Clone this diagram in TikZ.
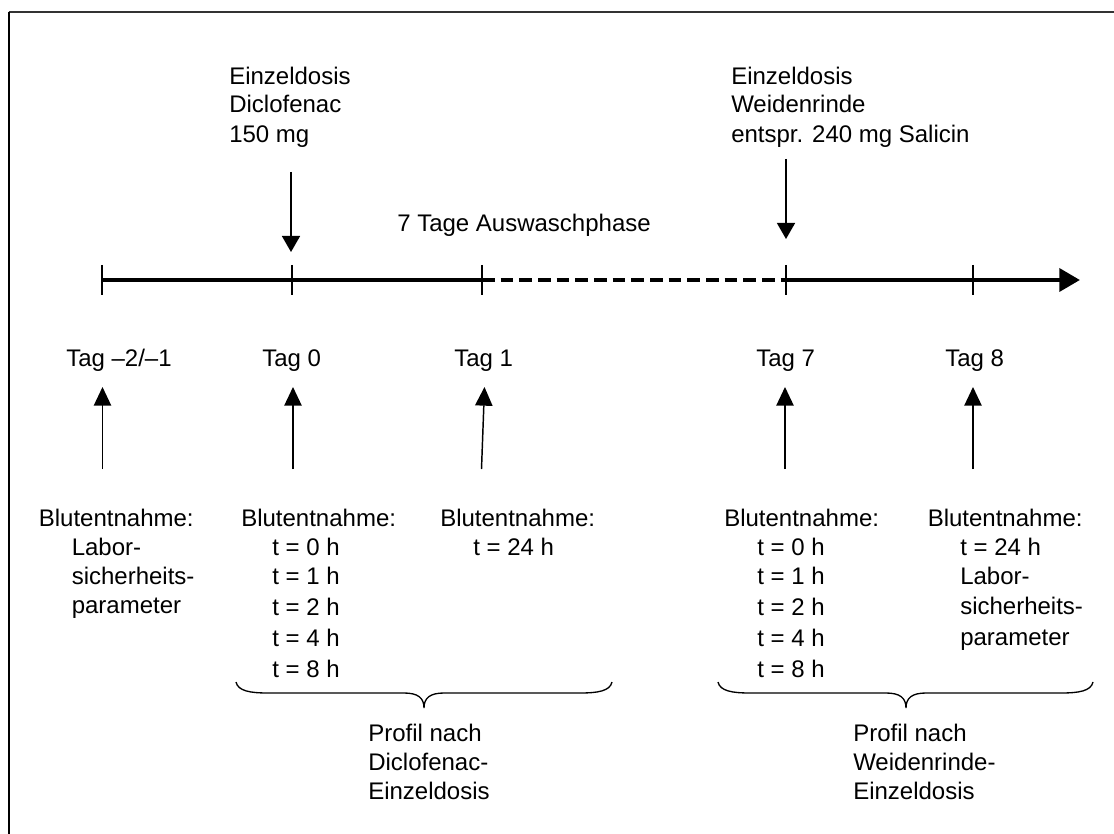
\documentclass[tikz,border=0pt]{standalone}
\usepackage{fontspec}
\setmainfont{Liberation Sans}
\usetikzlibrary{arrows.meta}
\begin{document}
\begin{tikzpicture}[x=0.75pt,y=-0.75pt,
  txt/.style={anchor=base west,inner sep=0pt,font=\fontsize{18}{22}\selectfont},
  axisline/.style={line width=3.4pt},
  tickmark/.style={line width=2.2pt},
  dashseg/.style={line width=2.4pt,dash pattern=on 9.5pt off 4.5pt},
  downarr/.style={line width=1.1pt,-{Triangle[length=12pt,width=13.5pt]}},
  uparr/.style={line width=1.1pt,-{Triangle[length=14pt,width=13pt]}},
  bracepath/.style={line width=1pt},
  frameline/.style={line width=1.5pt}]
\useasboundingbox (0,0) rectangle (1114,834);
% frame
\draw[frameline,black!80] (8.5,12) -- (1114,12);
\draw[frameline] (8.5,12) -- (8.5,834);
% timeline
\coordinate (t0) at (102,280);
\coordinate (t1) at (292,280);
\coordinate (t2) at (482,280);
\coordinate (t3) at (786,280);
\coordinate (t4) at (973,280);
\coordinate (tend) at (1080,280);
\draw[axisline] (t0) -- (t2);
\draw[dashseg] (t2) -- (t3);
\draw[axisline,-{Triangle[length=15.5pt,width=17pt]}] (t3) -- (tend);
\foreach \c in {t0,t1,t2,t3,t4}
  \draw[tickmark] ([yshift=11.25pt]\c) -- ([yshift=-11.25pt]\c);
% doses
\node[txt] (d1a) at (229,85) {Einzeldosis};
\node[txt] (d1b) at (229,113) {Diclofenac};
\node[txt] (d1c) at (229,143) {150 mg};
\coordinate (d1s) at (291,172);
\coordinate (d1e) at (291,252);
\draw[downarr] (d1s) -- (d1e);
\node[txt] (d2a) at (731,85) {Einzeldosis};
\node[txt] (d2b) at (731,113) {Weidenrinde};
\node[txt] (d2c) at (731,143) {entspr. 240 mg Salicin};
\coordinate (d2s) at (786,159);
\coordinate (d2e) at (786,239);
\draw[downarr] (d2s) -- (d2e);
\node[txt] (wash) at (397,232) {7 Tage Auswaschphase};
% day labels
\node[txt] (tagA) at (66,366) {Tag –2/–1};
\node[txt] (tagB) at (262,366) {Tag 0};
\node[txt] (tagC) at (454,366) {Tag 1};
\node[txt] (tagD) at (756,366) {Tag 7};
\node[txt] (tagE) at (945,366) {Tag 8};
% up arrows
\coordinate (uA1) at (102.5,469); \coordinate (uA2) at (102.5,387);
\coordinate (uB1) at (293,469);   \coordinate (uB2) at (293,387);
\coordinate (uC1) at (481.5,469); \coordinate (uC2) at (484.5,387);
\coordinate (uD1) at (785,469);   \coordinate (uD2) at (785,387);
\coordinate (uE1) at (973,469);   \coordinate (uE2) at (973,387);
\draw[uparr] (uA1) -- (uA2);
\draw[uparr] (uB1) -- (uB2);
\draw[uparr] (uC1) -- (uC2);
\draw[uparr] (uD1) -- (uD2);
\draw[uparr] (uE1) -- (uE2);
% column A
\node[txt] (bA) at (38.6,526) {Blutentnahme:};
\node[txt] (bA1) at (71.5,555) {Labor-};
\node[txt] (bA2) at (71.5,584) {sicherheits-};
\node[txt] (bA3) at (71.5,613) {parameter};
% column B
\node[txt] (bB) at (241,526) {Blutentnahme:};
\node[txt] (bB1) at (272,555) {t = 0 h};
\node[txt] (bB2) at (272,584) {t = 1 h};
\node[txt] (bB3) at (272,615) {t = 2 h};
\node[txt] (bB4) at (272,646) {t = 4 h};
\node[txt] (bB5) at (272,677) {t = 8 h};
% column C
\node[txt] (bC) at (440,526) {Blutentnahme:};
\node[txt] (bC1) at (473,555) {t = 24 h};
% column D
\node[txt] (bD) at (724,526) {Blutentnahme:};
\node[txt] (bD1) at (757,555) {t = 0 h};
\node[txt] (bD2) at (757,584) {t = 1 h};
\node[txt] (bD3) at (757,615) {t = 2 h};
\node[txt] (bD4) at (757,646) {t = 4 h};
\node[txt] (bD5) at (757,677) {t = 8 h};
% column E
\node[txt] (bE) at (927.5,526) {Blutentnahme:};
\node[txt] (bE1) at (960,555) {t = 24 h};
\node[txt] (bE2) at (960,584) {Labor-};
\node[txt] (bE3) at (960,614) {sicherheits-};
\node[txt] (bE4) at (960,645) {parameter};
% braces
\draw[bracepath] (236,682) .. controls (238,691) and (250,693) .. (268,693)
  -- (404,693) .. controls (418,693) and (424,698) .. (424,708)
  .. controls (424,698) and (430,693) .. (444,693)
  -- (580,693) .. controls (598,693) and (610,691) .. (612,682);
\draw[bracepath] (718,682) .. controls (720,691) and (732,693) .. (750,693)
  -- (886,693) .. controls (900,693) and (906,698) .. (906,708)
  .. controls (906,698) and (912,693) .. (926,693)
  -- (1061,693) .. controls (1079,693) and (1091,691) .. (1093,682);
% profile texts
\node[txt] (p1a) at (368,741) {Profil nach};
\node[txt] (p1b) at (368,770) {Diclofenac-};
\node[txt] (p1c) at (368,799) {Einzeldosis};
\node[txt] (p2a) at (853,741) {Profil nach};
\node[txt] (p2b) at (853,770) {Weidenrinde-};
\node[txt] (p2c) at (853,799) {Einzeldosis};
\end{tikzpicture}
\end{document}
